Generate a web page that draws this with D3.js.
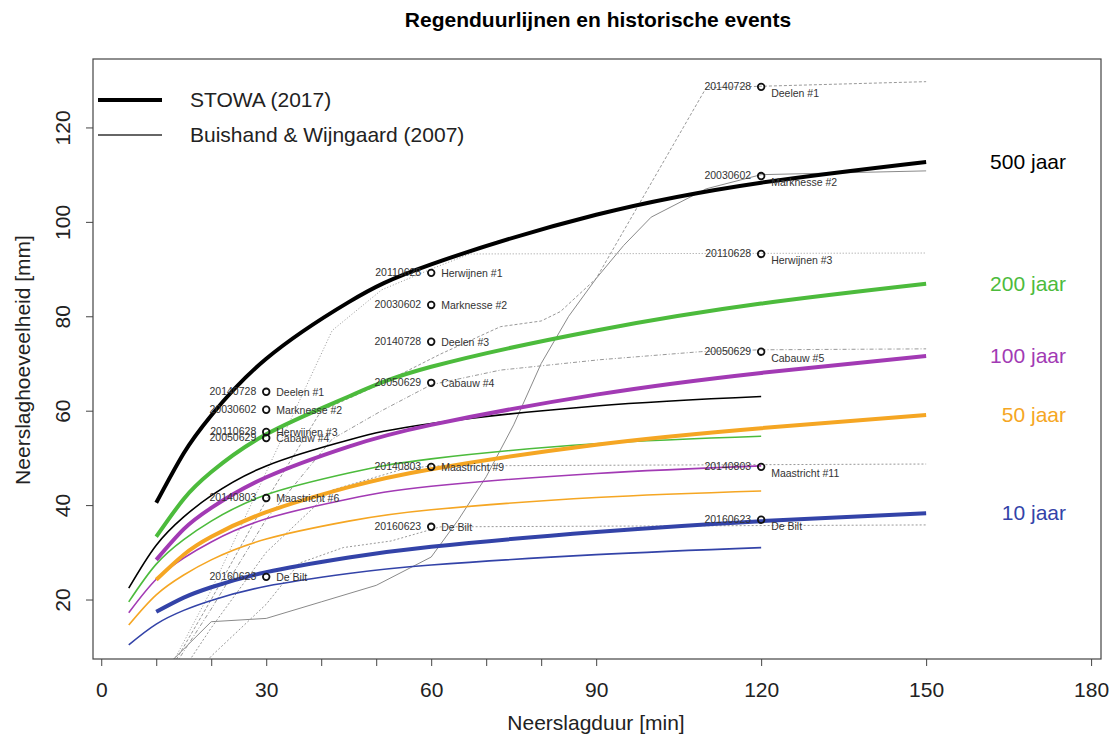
<!DOCTYPE html>
<html>
<head>
<meta charset="utf-8">
<script src="https://cdn.jsdelivr.net/npm/d3@7"></script>
<style>
  body { margin: 0; background: #fff; }
  text { font-family: "Liberation Sans", Arial, sans-serif; }
</style>
</head>
<body>
<script>
// durations [min]
var durStowa = [10, 15, 20, 30, 45, 60, 90, 120, 150];
var durBuis = [5, 10, 15, 20, 30, 45, 60, 90, 120];

// STOWA (2017) - thick lines
var stowa500 = [40.5, 51, 59, 71, 83, 91, 101.5, 108.3, 112.7];
var stowa200 = [33.3, 41.3, 47, 55, 63, 69.3, 77, 82.7, 86.9];
var stowa100 = [28.4, 34.9, 39.4, 45.9, 52.4, 57, 63.4, 68, 71.6];
var stowa50 = [24.2, 29.5, 33.3, 38.5, 43.8, 47.6, 52.8, 56.3, 59.1];
var stowa10 = [17.4, 20.4, 22.6, 25.8, 28.9, 31.2, 34.3, 36.6, 38.3];

// Buishand & Wijngaard (2007) - thin lines
var buis500 = [22.4, 31.5, 37.5, 42, 48.3, 53.8, 57.3, 61, 63];
var buis200 = [19.5, 27.5, 32.7, 36.6, 42.2, 46.8, 49.8, 53, 54.6];
var buis100 = [17.2, 24.3, 28.8, 32.2, 37.1, 41.3, 44, 46.7, 48.3];
var buis50 = [14.6, 21, 25.2, 28.4, 32.8, 36.6, 39, 41.6, 43];
var buis10 = [10.4, 14.8, 17.7, 19.8, 22.8, 25.5, 27.3, 29.5, 31];

var periods = ["500 jaar", "200 jaar", "100 jaar", "50 jaar", "10 jaar"];
var colors = ["#000000", "#4cbb3c", "#a23ab4", "#f5a623", "#3343a8"];

// historical events (maximum over duration)
var evDur = [30, 60, 120];
var evDates = ["20140728", "20030602", "20110628", "20050629", "20140803", "20160623"];
var evNames = ["Deelen", "Marknesse", "Herwijnen", "Cabauw", "Maastricht", "De Bilt"];
var evMax = [
  [64.0, 74.6, 128.6],
  [60.2, 82.4, 109.7],
  [55.5, 89.2, 93.2],
  [54.2, 65.9, 72.5],
  [41.5, 48.1, 48.1],
  [24.8, 35.4, 36.9]
];
var evRank = [
  ["#1", "#3", "#1"],
  ["#2", "#2", "#2"],
  ["#3", "#1", "#3"],
  ["#4", "#4", "#5"],
  ["#6", "#9", "#11"],
  ["", "", ""]
];

// cumulative event series
var evLineDur = [
  [10, 20, 30, 40, 51.5, 61.7, 72.6, 80, 83.5, 90, 110, 150],
  [10, 13, 20, 30, 40, 50, 60, 65, 70, 75, 80, 85, 90, 95, 100, 110, 120, 150],
  [10, 20, 30, 36, 42, 51, 60, 67, 150],
  [10, 20, 30, 42, 51, 60, 72.6, 90.7, 109, 120, 150],
  [12, 20, 30, 42, 54.5, 60, 150],
  [14, 20, 30, 36, 44, 52.7, 61.7, 150]
];
var evLineVal = [
  [0, 20, 41, 60, 66, 72, 77.8, 79, 81, 88, 128.4, 129.7],
  [0, 7.2, 15.3, 16, 19.5, 23, 29, 37, 46, 57, 70, 80, 88, 95, 101, 107, 110, 110.8],
  [0, 22, 47, 62, 77, 85.6, 90, 93.2, 93.4],
  [0, 18, 37, 54, 60, 65.5, 68.6, 70.8, 72.5, 72.9, 73.1],
  [0, 14, 30, 43.2, 47.5, 48.3, 48.7],
  [0, 8, 19, 27.7, 31, 32.4, 35.4, 35.8]
];
var evDash = ["3,2", null, "1,2", "4,2,1,2", "2,2", "2,2"];

var xTicks = [0, 10, 20, 30, 40, 50, 60, 70, 80, 90, 120, 150, 180];
var xLabels = [0, 30, 60, 90, 120, 150, 180];
var yTicks = [20, 40, 60, 80, 100, 120];

var W = 1115, H = 738;
var pL = 93, pR = 1101, pT = 59, pB = 659;

var x = d3.scaleLinear().domain([-1.5, 181.8]).range([pL, pR]);
var y = d3.scaleLinear().domain([7.4, 134.5]).range([pB, pT]);

var svg = d3.select("body").append("svg")
  .attr("width", W).attr("height", H);

svg.append("defs").append("clipPath").attr("id", "plot")
  .append("rect").attr("x", pL).attr("y", pT)
  .attr("width", pR - pL).attr("height", pB - pT);

var g = svg.append("g").attr("clip-path", "url(#plot)");

var line = d3.line()
  .x(function(d) { return x(d[0]); })
  .y(function(d) { return y(d[1]); });
var curve = d3.line()
  .x(function(d) { return x(d[0]); })
  .y(function(d) { return y(d[1]); })
  .curve(d3.curveNatural);

// event lines
evLineDur.forEach(function(ds, i) {
  var pts = ds.map(function(d, j) { return [d, evLineVal[i][j]]; });
  g.append("path")
    .attr("d", line(pts))
    .attr("fill", "none")
    .attr("stroke", i == 1 ? "#8a8a8a" : "#999")
    .attr("stroke-width", 1)
    .attr("stroke-dasharray", evDash[i]);
});

// Buishand thin
[buis500, buis200, buis100, buis50, buis10].forEach(function(s, i) {
  g.append("path")
    .attr("d", curve(durBuis.map(function(d, j) { return [d, s[j]]; })))
    .attr("fill", "none")
    .attr("stroke", colors[i])
    .attr("stroke-width", 1.6);
});

// STOWA thick
var stowa = [stowa500, stowa200, stowa100, stowa50, stowa10];
stowa.forEach(function(s, i) {
  g.append("path")
    .attr("d", curve(durStowa.map(function(d, j) { return [d, s[j]]; })))
    .attr("fill", "none")
    .attr("stroke", colors[i])
    .attr("stroke-width", 4);
});

// event markers and labels
evMax.forEach(function(vals, i) {
  vals.forEach(function(v, k) {
    var cx = x(evDur[k]), cy = y(v);
    svg.append("circle")
      .attr("cx", cx).attr("cy", cy).attr("r", 3.3)
      .attr("fill", "none").attr("stroke", "#111").attr("stroke-width", 1.8);
    svg.append("text")
      .attr("x", cx - 10).attr("y", cy + 3)
      .attr("text-anchor", "end")
      .attr("font-size", 10.5).attr("fill", "#333")
      .text(evDates[i]);
    var dy = k == 2 ? 10 : 4;
    svg.append("text")
      .attr("x", cx + 10).attr("y", cy + dy)
      .attr("font-size", 10.5).attr("fill", "#333")
      .text(evNames[i] + (evRank[i][k] ? " " + evRank[i][k] : ""));
  });
});

// period labels at right
stowa.forEach(function(s, i) {
  svg.append("text")
    .attr("x", 1066).attr("y", y(s[s.length - 1]) + 7)
    .attr("text-anchor", "end")
    .attr("font-size", 21)
    .attr("fill", colors[i])
    .text(periods[i]);
});

// frame
svg.append("rect")
  .attr("x", pL).attr("y", pT)
  .attr("width", pR - pL).attr("height", pB - pT)
  .attr("fill", "none").attr("stroke", "#444").attr("stroke-width", 1.2);

// x axis
var xAxis = svg.append("g").attr("transform", "translate(0," + pB + ")")
  .call(d3.axisBottom(x).tickValues(xTicks).tickSize(7)
    .tickFormat(function(d) { return xLabels.indexOf(d) >= 0 ? d : ""; }));
xAxis.select(".domain").remove();
xAxis.selectAll("line").attr("stroke", "#444");
xAxis.selectAll("text").attr("font-size", 21).attr("fill", "#222")
  .attr("y", 0).attr("dy", 0).attr("transform", "translate(0,38)");

// y axis
var yAxis = svg.append("g").attr("transform", "translate(" + pL + ",0)")
  .call(d3.axisLeft(y).tickValues(yTicks).tickSize(7));
yAxis.select(".domain").remove();
yAxis.selectAll("line").attr("stroke", "#444");
yAxis.selectAll("text")
  .attr("font-size", 21).attr("fill", "#222")
  .attr("text-anchor", "middle")
  .attr("x", 0).attr("dy", 0)
  .attr("transform", "translate(-23,0) rotate(-90)");

// titles
svg.append("text")
  .attr("x", 598).attr("y", 27)
  .attr("text-anchor", "middle")
  .attr("font-size", 21).attr("font-weight", "bold")
  .text("Regenduurlijnen en historische events");
svg.append("text")
  .attr("x", 596).attr("y", 730)
  .attr("text-anchor", "middle")
  .attr("font-size", 21).attr("fill", "#222")
  .text("Neerslagduur [min]");
svg.append("text")
  .attr("transform", "translate(30,360) rotate(-90)")
  .attr("text-anchor", "middle")
  .attr("font-size", 21).attr("fill", "#222")
  .text("Neerslaghoeveelheid [mm]");

// legend
var legend = [["STOWA (2017)", 4, "#000"], ["Buishand & Wijngaard (2007)", 1.6, "#333"]];
legend.forEach(function(l, i) {
  var ly = 100 + i * 35;
  svg.append("line")
    .attr("x1", 98).attr("x2", 162).attr("y1", ly).attr("y2", ly)
    .attr("stroke", l[2]).attr("stroke-width", l[1]);
  svg.append("text")
    .attr("x", 190).attr("y", ly + 7)
    .attr("font-size", 21).attr("fill", "#222")
    .text(l[0]);
});
</script>
</body>
</html>
